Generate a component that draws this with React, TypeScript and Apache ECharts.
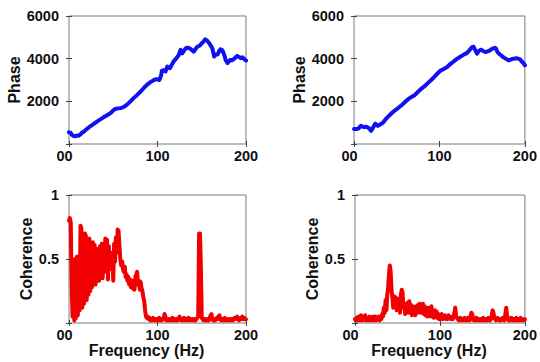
import React, { useEffect, useRef } from 'react';
import * as echarts from 'echarts';

// ---- data ----
const xTicks = [0, 100, 200];

const phase1Freq = [0, 2, 3, 5, 7, 9, 11, 13, 15, 17, 20, 24, 28, 32, 35, 39, 43, 47, 50, 52, 55, 58, 61, 64, 68, 73, 77, 81, 85, 88, 92, 96, 99, 102, 104, 105, 107, 109, 111, 113, 114, 116, 118, 121, 124, 126, 128, 130, 132, 134, 136, 139, 141, 143, 145, 148, 150, 152, 154, 156, 158, 160, 162, 164, 166, 168, 170, 171, 173, 174, 176, 177, 179, 181, 182, 184, 186, 188, 190, 192, 194, 196, 198, 200];
const phase1Vals = [550, 520, 440, 380, 360, 400, 390, 450, 540, 590, 700, 830, 940, 1060, 1140, 1250, 1350, 1450, 1580, 1640, 1670, 1680, 1720, 1790, 1940, 2150, 2300, 2460, 2650, 2770, 2900, 3000, 3040, 3000, 3200, 3440, 3460, 3400, 3630, 3560, 3550, 3700, 3860, 4000, 4170, 4410, 4250, 4380, 4490, 4510, 4490, 4400, 4330, 4450, 4560, 4620, 4720, 4800, 4910, 4850, 4750, 4620, 4490, 4100, 4200, 4200, 4380, 4440, 4400, 4330, 4100, 3940, 3790, 3880, 3940, 3920, 3970, 4050, 4130, 4080, 4020, 4060, 3980, 3910];

const phase2Freq = [0, 3, 5, 8, 10, 12, 14, 16, 18, 20, 22, 24, 25, 27, 28, 30, 32, 34, 37, 40, 44, 48, 52, 56, 60, 63, 67, 71, 75, 79, 83, 86, 90, 94, 97, 101, 105, 109, 113, 117, 120, 124, 128, 132, 135, 138, 140, 141, 143, 144, 146, 147, 149, 151, 154, 156, 158, 160, 162, 165, 166, 168, 170, 172, 175, 178, 181, 184, 187, 190, 192, 194, 196, 198, 200];
const phase2Vals = [700, 700, 720, 850, 820, 790, 810, 780, 720, 620, 740, 900, 950, 880, 850, 900, 950, 1000, 1160, 1280, 1440, 1580, 1700, 1830, 1980, 2090, 2200, 2290, 2450, 2600, 2720, 2840, 2990, 3150, 3280, 3430, 3520, 3610, 3760, 3880, 3980, 4080, 4180, 4260, 4390, 4540, 4560, 4470, 4300, 4230, 4350, 4390, 4420, 4360, 4310, 4340, 4360, 4420, 4470, 4510, 4480, 4310, 4220, 4160, 4060, 3990, 3920, 3970, 4000, 4020, 4000, 3980, 3880, 3800, 3690];

// coherence, one value per Hz from 0 to 200
const coh1Vals = [
  0.80, 0.82, 0.78, 0.30, 0.05, 0.45, 0.02, 0.50, 0.04, 0.52,
  0.06, 0.48, 0.10, 0.76, 0.74, 0.12, 0.66, 0.15, 0.70, 0.68,
  0.18, 0.62, 0.22, 0.66, 0.25, 0.62, 0.28, 0.63, 0.32, 0.61,
  0.30, 0.58, 0.35, 0.56, 0.33, 0.60, 0.38, 0.62, 0.35, 0.60,
  0.40, 0.66, 0.45, 0.65, 0.34, 0.60, 0.42, 0.55, 0.45, 0.54,
  0.33, 0.62, 0.48, 0.67, 0.55, 0.73, 0.72, 0.60, 0.50, 0.45,
  0.48, 0.42, 0.40, 0.44, 0.36, 0.38, 0.33, 0.36, 0.30, 0.34,
  0.28, 0.33, 0.27, 0.31, 0.26, 0.36, 0.38, 0.40, 0.30, 0.33,
  0.26, 0.32, 0.27, 0.25, 0.20, 0.17, 0.10, 0.05, 0.04, 0.05,
  0.03, 0.04, 0.02, 0.03, 0.02, 0.04, 0.03, 0.02, 0.03, 0.02,
  0.03, 0.02, 0.04, 0.02, 0.03, 0.02, 0.03, 0.04, 0.07, 0.05,
  0.02, 0.03, 0.02, 0.03, 0.02, 0.03, 0.02, 0.04, 0.03, 0.02,
  0.03, 0.02, 0.03, 0.02, 0.04, 0.05, 0.03, 0.02, 0.03, 0.02,
  0.04, 0.03, 0.02, 0.03, 0.02, 0.04, 0.03, 0.02, 0.03, 0.02,
  0.03, 0.02, 0.03, 0.02, 0.03, 0.04, 0.05, 0.70, 0.70, 0.44,
  0.04, 0.03, 0.02, 0.03, 0.02, 0.03, 0.02, 0.03, 0.02, 0.04,
  0.06, 0.07, 0.03, 0.02, 0.03, 0.02, 0.03, 0.04, 0.03, 0.05,
  0.06, 0.03, 0.02, 0.03, 0.02, 0.03, 0.04, 0.02, 0.03, 0.02,
  0.03, 0.02, 0.03, 0.02, 0.03, 0.02, 0.03, 0.04, 0.03, 0.04,
  0.05, 0.03, 0.02, 0.03, 0.04, 0.03, 0.05, 0.03, 0.04, 0.03,
  0.03,
];

const coh2Vals = [
  0.03, 0.02, 0.04, 0.02, 0.05, 0.03, 0.02, 0.06, 0.03, 0.02,
  0.05, 0.03, 0.06, 0.02, 0.04, 0.03, 0.02, 0.05, 0.03, 0.02,
  0.04, 0.05, 0.02, 0.03, 0.05, 0.02, 0.04, 0.03, 0.05, 0.02,
  0.04, 0.03, 0.07, 0.05, 0.12, 0.08, 0.18, 0.10, 0.22, 0.28,
  0.38, 0.45, 0.40, 0.26, 0.20, 0.12, 0.21, 0.15, 0.20, 0.10,
  0.19, 0.12, 0.17, 0.08, 0.22, 0.26, 0.24, 0.12, 0.15, 0.07,
  0.13, 0.09, 0.16, 0.08, 0.17, 0.10, 0.14, 0.06, 0.13, 0.08,
  0.11, 0.06, 0.13, 0.08, 0.14, 0.10, 0.15, 0.08, 0.14, 0.09,
  0.15, 0.07, 0.13, 0.06, 0.11, 0.05, 0.12, 0.07, 0.10, 0.05,
  0.13, 0.06, 0.09, 0.04, 0.10, 0.05, 0.09, 0.04, 0.07, 0.03,
  0.06, 0.04, 0.07, 0.03, 0.05, 0.04, 0.06, 0.03, 0.05, 0.03,
  0.06, 0.04, 0.05, 0.03, 0.04, 0.03, 0.05, 0.08, 0.12, 0.06,
  0.04, 0.03, 0.02, 0.03, 0.04, 0.02, 0.03, 0.02, 0.03, 0.04,
  0.02, 0.03, 0.02, 0.04, 0.03, 0.02, 0.05, 0.08, 0.07, 0.03,
  0.02, 0.03, 0.02, 0.04, 0.03, 0.02, 0.03, 0.02, 0.03, 0.02,
  0.03, 0.04, 0.02, 0.03, 0.02, 0.03, 0.02, 0.04, 0.03, 0.02,
  0.03, 0.06, 0.10, 0.08, 0.04, 0.03, 0.02, 0.03, 0.04, 0.03,
  0.02, 0.03, 0.02, 0.03, 0.04, 0.03, 0.02, 0.07, 0.12, 0.06,
  0.03, 0.02, 0.03, 0.02, 0.04, 0.03, 0.02, 0.03, 0.02, 0.03,
  0.04, 0.02, 0.03, 0.02, 0.03, 0.04, 0.02, 0.03, 0.02, 0.03,
  0.03,
];

const FONT = '"Liberation Sans", Arial, sans-serif';
const BLUE = '#1010f0';
const RED = '#f00000';

export default function App() {
  const ref = useRef<HTMLDivElement>(null);

  useEffect(() => {
    document.body.style.margin = '0';
    const chart = echarts.init(ref.current!, null, { renderer: 'svg' });

    const grids = [
      { left: 69, top: 16, width: 177, height: 128 },
      { left: 354, top: 16, width: 176, height: 128 },
      { left: 69, top: 195, width: 177, height: 128 },
      { left: 355, top: 195, width: 176, height: 128 },
    ];
    const yNameGaps = [46, 43, 32, 31];

    const labelStyle = {
      color: '#111',
      fontSize: 14.5,
      fontWeight: 'bold' as const,
      fontFamily: FONT,
    };
    const tick = { show: true, inside: true, length: 3, lineStyle: { color: '#444', width: 1 } };

    const xAxes: any[] = [];
    const yAxes: any[] = [];
    grids.forEach((_, i) => {
      const isBottom = i >= 2;
      xAxes.push({
        gridIndex: i,
        type: 'value',
        position: 'bottom',
        min: xTicks[0],
        max: xTicks[xTicks.length - 1],
        interval: 100,
        axisLine: { show: false },
        axisTick: tick,
        splitLine: { show: false },
        axisLabel: {
          ...labelStyle,
          margin: 4,
          formatter: (v: number) => (v === 0 ? '{z|00}' : String(v)),
          rich: { z: { ...labelStyle, padding: [0, 9, 0, 0] } },
        },
        name: isBottom ? 'Frequency (Hz)' : '',
        nameLocation: 'middle',
        nameGap: 18,
        nameTextStyle: {
          color: '#111',
          fontSize: 16,
          fontWeight: 'bold',
          fontFamily: FONT,
          padding: [0, 22, 0, 0],
        },
      });
      xAxes.push({
        gridIndex: i,
        type: 'value',
        position: 'top',
        min: 0,
        max: 200,
        interval: 100,
        axisLine: { show: false },
        axisTick: tick,
        axisLabel: { show: false },
        splitLine: { show: false },
      });
      const isPhase = i < 2;
      const yMax = isPhase ? 6000 : 1;
      const yInt = isPhase ? 2000 : 0.5;
      yAxes.push({
        gridIndex: i,
        type: 'value',
        position: 'left',
        min: 0,
        max: yMax,
        interval: yInt,
        axisLine: { show: false },
        axisTick: tick,
        splitLine: { show: false },
        axisLabel: {
          ...labelStyle,
          margin: 10,
          formatter: (v: number) => (v === 0 ? '' : String(v)),
        },
        name: isPhase ? 'Phase' : 'Coherence',
        nameLocation: 'middle',
        nameGap: yNameGaps[i],
        nameTextStyle: {
          color: '#111',
          fontSize: 16,
          fontWeight: 'bold',
          fontFamily: FONT,
        },
      });
      yAxes.push({
        gridIndex: i,
        type: 'value',
        position: 'right',
        min: 0,
        max: yMax,
        interval: yInt,
        axisLine: { show: false },
        axisTick: tick,
        axisLabel: { show: false },
        splitLine: { show: false },
      });
    });

    const mk = (idx: number, data: number[][], color: string) => ({
      type: 'line',
      xAxisIndex: idx * 2,
      yAxisIndex: idx * 2,
      data,
      showSymbol: false,
      symbol: 'none',
      lineStyle: { color, width: 4, join: 'round', cap: 'round' },
      itemStyle: { color },
    });

    const option: any = {
      animation: false,
      backgroundColor: '#ffffff',
      grid: grids.map((g) => ({
        ...g,
        show: true,
        borderColor: '#7a7a7a',
        borderWidth: 1,
        backgroundColor: 'transparent',
      })),
      xAxis: xAxes,
      yAxis: yAxes,
      series: [
        mk(0, phase1Freq.map((f, j) => [f, phase1Vals[j]]), BLUE),
        mk(1, phase2Freq.map((f, j) => [f, phase2Vals[j]]), BLUE),
        mk(2, coh1Vals.map((v, j) => [j, v]), RED),
        mk(3, coh2Vals.map((v, j) => [j, v]), RED),
      ],
    };

    chart.setOption(option);
    return () => chart.dispose();
  }, []);

  return <div ref={ref} style={{ width: 540, height: 362 }} />;
}
